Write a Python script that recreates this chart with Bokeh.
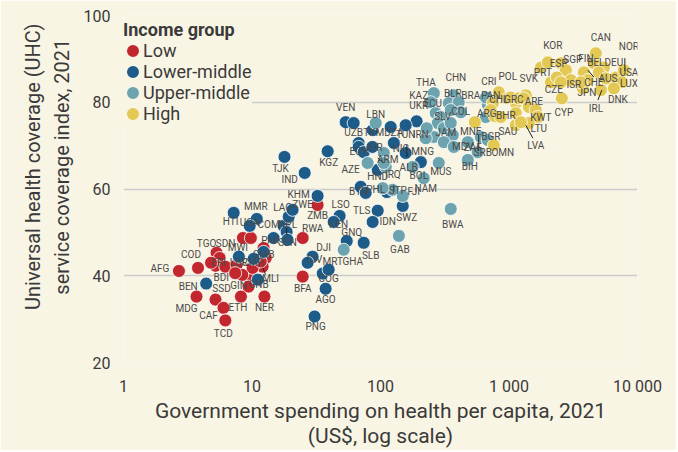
from bokeh.plotting import figure
from bokeh.models import ColumnDataSource, FixedTicker, Legend, LegendItem, CustomJSTickFormatter
from bokeh.embed import file_html
from bokeh.resources import INLINE
from bokeh.core.properties import value

# ---------------- data (gov. health spending per capita US$, UHC index) ----------------
low_iso = ["AFG", "COD", "MDG", "SSD", "CAF", "TCD", "TGO", "SDN", "ERI", "BDI", "LBR", "MWI", "",
           "GMB", "", "MLI", "GNB", "GIN", "ETH", "NER", "BFA", "RWA", "ZMB", "", "", "", "", ""]
low_spend = [2.7, 3.8, 3.7, 5.2, 6.0, 6.2, 5.3, 5.6, 5.2, 6.2, 7.6, 8.5, 9.8,
             12.3, 12.8, 12.1, 10.1, 9.4, 8.2, 12.5, 24.8, 24.8, 32.4, 10.1, 8.4, 7.4, 4.8, 11.7]
low_uhc = [41.1, 41.8, 35.2, 34.5, 32.6, 29.7, 45.3, 44.1, 42.3, 42.1, 42.5, 48.7, 48.7,
           46.4, 44.1, 42.1, 39.3, 37.5, 35.2, 35.2, 39.8, 48.7, 56.3, 41.8, 40.2, 40.6, 43.0, 43.3]

lmid_iso = ["BEN", "HTI", "MMR", "UGA", "CMR", "", "", "", "PAK", "COM", "NPL", "SEN", "LAO", "ZWE",
            "KHM", "DJI", "CIV", "MRT", "COG", "GNQ", "SLB", "AGO", "PNG", "LSO", "KEN", "TLS", "IDN",
            "SWZ", "TJK", "IND", "KGZ", "VEN", "", "UZB", "TKM", "DZA", "UKR", "TUN", "EGY", "", "JOR",
            "HND", "NIC", "MNG", "BOL", "BTN", "PHL", "STP"]
lmid_spend = [4.4, 7.2, 10.9, 9.6, 7.9, 12.3, 11.1, 10.3, 14.7, 17.6, 18.6, 18.9, 19.3, 20.7,
              32.4, 29.6, 27.1, 35.5, 39.5, 54.6, 74.0, 37.4, 30.7, 48.1, 43.2, 95.1, 86.9,
              149, 17.9, 25.7, 38.8, 53.6, 61.8, 67.6, 86.9, 120, 191, 157, 67.6, 74.0, 86.5,
              95.1, 127, 157, 206, 70.1, 76.7, 112]
lmid_uhc = [38.2, 54.5, 53.1, 51.5, 44.4, 45.5, 39.1, 43.9, 48.7, 51.5, 50.1, 48.3, 53.6, 55.2,
            58.4, 44.4, 43.0, 40.5, 41.4, 48.0, 47.6, 37.0, 30.6, 53.8, 52.4, 55.0, 52.4,
            56.1, 67.4, 63.7, 68.7, 75.4, 75.2, 70.6, 73.6, 74.3, 75.6, 74.7, 69.7, 68.5, 69.7,
            64.4, 70.6, 68.3, 66.2, 60.5, 59.1, 59.3]

umid_iso = ["GHA", "GAB", "BWA", "FJI", "", "", "NAM", "MUS", "AZE", "ARM", "IRQ", "", "ALB", "LBN",
            "THA", "KAZ", "CHN", "BLR", "BRA", "ECU", "SLV", "COL", "", "", "JAM", "", "", "", "", "",
            "IRN", "MDV", "ZAF", "ARG", "PAN", "CRI", "MNE", "BGR", "SRB", "BIH"]
umid_spend = [51.7, 139, 352, 149, 124, 104, 217, 284, 79.4, 106, 110, 106, 178, 91.8,
              260, 246, 372, 340, 406, 269, 294, 421, 352, 279, 311, 352, 365, 260, 311, 225,
              229, 372, 478, 659, 684, 661, 603, 684, 571, 478]
umid_uhc = [46.0, 49.2, 55.4, 58.4, 59.8, 60.2, 62.5, 66.0, 66.0, 68.3, 65.1, 66.0, 65.1, 75.2,
            82.1, 80.0, 81.6, 79.8, 80.0, 77.5, 76.6, 77.7, 78.2, 75.2, 74.0, 75.2, 72.4, 72.0, 70.8, 71.7,
            74.0, 69.7, 70.8, 76.6, 79.5, 81.1, 72.0, 71.3, 68.5, 66.7]

high_iso = ["OMN", "", "POL", "", "", "CHL", "", "", "GRC", "", "", "SVK", "", "BHR", "ARE", "", "KWT",
            "SAU", "LTU", "LVA", "PRT", "KOR", "ESP", "SGP", "CZE", "", "ISR", "", "CYP", "FIN", "BEL",
            "CAN", "DEU", "", "CHE", "AUS", "USA", "NOR", "LUX", "IRL", "JPN", "", "DNK"]
high_spend = [762, 542, 833, 748, 722, 979, 775, 863, 1130, 1033, 1192, 1352, 1303, 1130, 1427, 1617, 1676,
              1130, 1427, 1236, 1770, 2005, 2530, 2770, 2120, 2356, 3030, 2530, 2578, 3828, 4571,
              4740, 5476, 5000, 4110, 5675, 6790, 7830, 7570, 5190, 3757, 3625, 6550]
high_uhc = [70.1, 75.4, 82.3, 79.8, 78.2, 80.9, 76.8, 76.6, 79.8, 81.1, 80.9, 81.6, 80.9, 77.5, 78.9, 78.2, 76.6,
            74.7, 75.2, 75.4, 88.0, 89.2, 89.0, 87.4, 84.6, 85.7, 85.1, 84.6, 80.9, 86.9, 89.0,
            91.3, 88.0, 86.9, 85.1, 85.5, 85.7, 87.4, 84.6, 82.8, 83.2, 84.6, 83.2]

groups = ["Low", "Lower-middle", "Upper-middle", "High"]
x_ticks = [1, 10, 100, 1000, 10000]
y_ticks = [20, 40, 60, 80, 100]

# ---------------- styling ----------------
BG = "#F9F5E4"
COLORS = {"Low": "#C1272D", "Lower-middle": "#1D5C89", "Upper-middle": "#6DA3AE", "High": "#E3C853"}
TXT = "#3A3A3A"
FONT = "Roboto"
X0, X1, Y0, Y1 = 1, 10000, 20, 100
FRAME_W, FRAME_H = 514, 348

# label placement (screen-pixel offsets of label centre from point)
label_pos = {
    "AFG": (-19, -2), "COD": (-7, -13), "MDG": (-10, 12), "SSD": (6, -11), "CAF": (-15, 8), "TCD": (-2, 13),
    "TGO": (-10, -9), "SDN": (6, -14), "ERI": (3, -3), "BDI": (-4, 11), "LBR": (2, -2), "MWI": (-5, 9),
    "GMB": (0, 7), "MLI": (8, 12), "GNB": (6, 6), "GIN": (-10, -1), "ETH": (-3, 11), "NER": (0, 11),
    "BFA": (0, 12), "RWA": (10, -10), "ZMB": (0, 10),
    "BEN": (-18, 3), "HTI": (-3, 9), "MMR": (-1, -12), "UGA": (0, -3), "CMR": (14, 6), "PAK": (-3, 2),
    "COM": (-15, -1), "NPL": (1, -7), "SEN": (0, 3), "LAO": (-6, -9), "ZWE": (10, -5), "KHM": (-19, -1),
    "DJI": (11, -9), "CIV": (7, -3), "MRT": (10, -12), "COG": (0, 9), "GNQ": (5, -9), "SLB": (7, 13),
    "AGO": (0, 11), "PNG": (1, 10), "LSO": (1, -11), "KEN": (5, 3), "TLS": (-16, 0), "IDN": (15, 0),
    "SWZ": (4, 12), "TJK": (-4, 12), "IND": (-15, 7), "KGZ": (1, 11), "VEN": (0, -15), "UZB": (-5, -11),
    "TKM": (1, 2), "DZA": (3, 6), "UKR": (2, -16), "TUN": (0, 9), "EGY": (0, 5), "JOR": (1, 1),
    "HND": (0, 7), "NIC": (7, 5), "MNG": (17, -1), "BOL": (-2, 13), "BTN": (-2, 5), "PHL": (10, -3),
    "STP": (11, -2),
    "GHA": (9, 12), "GAB": (1, 14), "BWA": (2, 16), "FJI": (11, -4), "NAM": (2, 10), "MUS": (2, 9),
    "AZE": (-17, 7), "ARM": (4, 7), "IRQ": (7, 8), "ALB": (-4, 1), "LBN": (0, -9), "THA": (-8, -11),
    "KAZ": (-12, -7), "CHN": (2, -18), "BLR": (4, -10), "BRA": (12, -7), "ECU": (-3, -10), "SLV": (2, 0),
    "COL": (0, -1), "JAM": (2, 4), "IRN": (-6, 6), "MDV": (9, 0), "ZAF": (5, 5), "ARG": (1, -3),
    "PAN": (3, -9), "CRI": (3, -16), "MNE": (-10, -5), "BGR": (3, -3), "SRB": (5, 0), "BIH": (2, 7),
    "OMN": (9, 7), "POL": (9, -16), "CHL": (-9, 1), "GRC": (-2, -4), "SVK": (3, -17), "BHR": (-10, 2),
    "ARE": (5, -6), "KWT": (3, 1), "SAU": (-8, 6), "LTU": (10, 5), "LVA": (15, 23), "PRT": (2, 5),
    "KOR": (5, -17), "ESP": (-2, 0), "SGP": (7, -11), "CZE": (3, 7), "ISR": (3, 4), "CYP": (2, 14),
    "FIN": (2, -14), "BEL": (2, -1), "CAN": (5, -16), "DEU": (10, -5), "CHE": (6, 2), "AUS": (2, 0),
    "USA": (13, -5), "NOR": (5, -24), "LUX": (7, 1), "IRL": (-5, 18), "JPN": (4, 4), "DNK": (4, 11),
}
# leader lines: (start dx, dy, end dx, dy) in screen pixels relative to the point
leaders = {
    "MLI": (0, 1, 3, 8), "NOR": (1, -12, 1, 1), "IRL": (-3, 10, 1, 0), "LVA": (5, 3, 12, 16),
    "SRB": (1, -17, 1, -1), "NPL": (0, -4, 0, 3), "NIC": (13, 2, 13, 14), "CHE": (0, -10, 6, -3),
    "ARM": (-6, 5, 0, 10), "STP": (7, -7, 7, 0),
}

p = figure(width=676, height=450, x_axis_type="log", x_range=(X0, X1), y_range=(Y0, Y1),
           output_backend="svg", toolbar_location=None,
           min_border_left=123, min_border_right=39, min_border_top=15, min_border_bottom=87,
           background_fill_color=BG, border_fill_color=BG)
p.outline_line_color = None
p.xgrid.visible = False
p.ygrid.grid_line_color = "#CCCCCC"
p.ygrid.grid_line_width = 1.5

p.xaxis.ticker = FixedTicker(ticks=x_ticks)
p.xaxis.formatter = CustomJSTickFormatter(
    code="const s = Math.round(tick).toString(); return s.replace(/\\B(?=(\\d{3})+(?!\\d))/g, ' ');")
p.yaxis.ticker = FixedTicker(ticks=y_ticks)
for ax in (p.xaxis[0], p.yaxis[0]):
    ax.axis_line_color = None
    ax.major_tick_line_color = None
    ax.minor_tick_line_color = None
    ax.major_label_text_font = FONT
    ax.major_label_text_font_size = "16px"
    ax.major_label_text_color = TXT
    ax.axis_label_text_font = FONT
    ax.axis_label_text_font_style = "normal"
    ax.axis_label_text_color = TXT
p.xaxis.axis_label = "Government spending on health per capita, 2021\n(US$, log scale)"
p.xaxis.axis_label_text_font_size = "21px"
p.xaxis.axis_label_text_line_height = 1.05
p.xaxis.major_label_standoff = 8
p.xaxis.axis_label_standoff = 0

pad = "\u00a0" * 9   # lifts the centred y title a little above the frame centre, as in the original
p.yaxis.axis_label = pad + "Universal health coverage (UHC)\n" + pad + "service coverage index, 2021"
p.yaxis.axis_label_text_font_size = "20px"
p.yaxis.major_label_standoff = 7
p.yaxis.axis_label_standoff = 7

data = {
    "Low": (low_iso, low_spend, low_uhc),
    "Lower-middle": (lmid_iso, lmid_spend, lmid_uhc),
    "Upper-middle": (umid_iso, umid_spend, umid_uhc),
    "High": (high_iso, high_spend, high_uhc),
}

dec_px = FRAME_W / 4.0              # pixels per decade on the log axis
unit_px = FRAME_H / float(Y1 - Y0)  # pixels per UHC point

lab_x, lab_y, lab_t, lab_dx, lab_dy = [], [], [], [], []
ld_x0, ld_y0, ld_x1, ld_y1 = [], [], [], []
key_renderers = {}
for g in groups:
    iso, xs, ys = data[g]
    src = ColumnDataSource(dict(x=xs, y=ys, iso=iso))
    # legend-key renderer: zero-size dots hidden underneath the real points; the legend
    # draws it as a solid disc (fill + same-colour outline)
    key_renderers[g] = p.scatter("x", "y", source=src, size=0, fill_color=COLORS[g],
                                 line_color=COLORS[g], line_width=4.4, level="underlay")
    p.scatter("x", "y", source=src, size=13, fill_color=COLORS[g], fill_alpha=1,
              line_color="white", line_width=0.8)
    for c, xv, yv in zip(iso, xs, ys):
        if c:
            dx, dy = label_pos.get(c, (0, -11))
            lab_x.append(xv); lab_y.append(yv); lab_t.append(c)
            lab_dx.append(dx); lab_dy.append(dy)
        if c in leaders:
            a, b, cc, d = leaders[c]
            ld_x0.append(xv * 10 ** (a / dec_px)); ld_y0.append(yv - b / unit_px)
            ld_x1.append(xv * 10 ** (cc / dec_px)); ld_y1.append(yv - d / unit_px)

p.segment(x0=ld_x0, y0=ld_y0, x1=ld_x1, y1=ld_y1, line_color="#222222", line_width=1)

lab_src = ColumnDataSource(dict(x=lab_x, y=lab_y, t=lab_t, dx=lab_dx, dy=lab_dy))
p.text("x", "y", text="t", x_offset="dx", y_offset="dy", source=lab_src,
       text_align="center", text_baseline="middle", text_font=value(FONT),
       text_font_size="10px", text_color="#4A4A4A")

legend = Legend(items=[LegendItem(label=g, renderers=[key_renderers[g]]) for g in groups],
                location=(0, 238.5), title="Income group")
legend.title_text_font = FONT
legend.title_text_font_style = "bold"
legend.title_text_font_size = "18px"
legend.title_text_color = TXT
legend.label_text_font = FONT
legend.label_text_font_size = "18px"
legend.label_text_color = TXT
legend.background_fill_color = BG
legend.background_fill_alpha = 1
legend.border_line_color = None
legend.margin = 0
legend.padding = 0
legend.spacing = 0
legend.label_height = 21
legend.glyph_height = 21
legend.glyph_width = 19
legend.label_standoff = 1
legend.title_standoff = 0
p.add_layout(legend)

open("out.html", "w").write(file_html(p, INLINE))
